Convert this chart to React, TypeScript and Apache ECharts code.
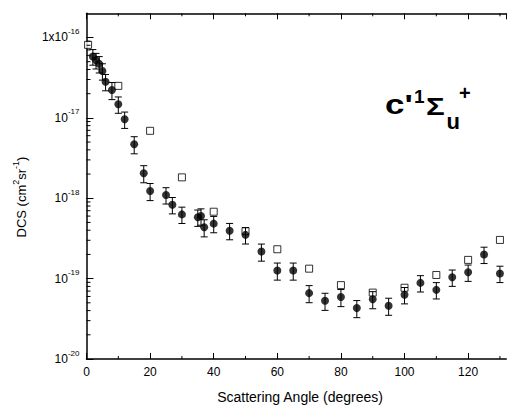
import React, { useEffect, useRef } from "react";
import * as echarts from "echarts";

// Measured differential cross sections (filled circles, with error bars)
const angles = [2, 3, 4, 5, 6, 8, 10, 12, 15, 18, 20, 25, 27, 30, 35, 36, 37, 40, 45, 50, 55, 60, 65, 70, 75, 80, 85, 90, 95, 100, 105, 110, 115, 120, 125, 130];
const measuredDcs = [
  5.8e-17, 5.2e-17, 4.7e-17, 3.83e-17, 2.82e-17, 2.22e-17, 1.48e-17, 9.6e-18, 4.7e-18, 2.05e-18,
  1.23e-18, 1.1e-18, 8.3e-19, 6.3e-19, 5.8e-19, 6.0e-19, 4.35e-19, 4.83e-19, 3.95e-19, 3.5e-19,
  2.17e-19, 1.26e-19, 1.26e-19, 6.6e-20, 5.3e-20, 5.9e-20, 4.3e-20, 5.55e-20, 4.6e-20, 6.3e-20,
  8.85e-20, 7.25e-20, 1.04e-19, 1.2e-19, 2.0e-19, 1.16e-19,
];
// Relative uncertainty of each measured point
const measuredRelErr = [
  0.22, 0.22, 0.23, 0.23, 0.23, 0.24, 0.23, 0.23, 0.24, 0.24,
  0.24, 0.23, 0.23, 0.23, 0.23, 0.23, 0.24, 0.23, 0.23, 0.23,
  0.24, 0.24, 0.24, 0.24, 0.24, 0.24, 0.24, 0.24, 0.24, 0.23,
  0.23, 0.23, 0.23, 0.23, 0.23, 0.23,
];

// Calculated cross sections (open squares)
const theoryAngles = [0.5, 10, 20, 30, 40, 50, 60, 70, 80, 90, 100, 110, 120, 130];
const theoryDcs = [8.1e-17, 2.5e-17, 6.9e-18, 1.82e-18, 6.8e-19, 3.9e-19, 2.32e-19, 1.33e-19, 8.3e-20, 6.7e-20, 7.7e-20, 1.11e-19, 1.71e-19, 3.03e-19];

// Axis ranges and tick positions
const xMin = 0;
const xMax = 132;
const xMajorStep = 20;
const xMinorTicks = [10, 30, 50, 70, 90, 110, 130];
const yMin = 1e-20;
const yMax = 2e-16;
const yDecades = [-20, -19, -18, -17];
const yMinorMultipliers = [2, 3, 4, 5, 6, 7, 8, 9];

const FONT = "Liberation Sans, Arial, sans-serif";

export default function App() {
  const ref = useRef<HTMLDivElement>(null);

  useEffect(() => {
    if (!ref.current) return;
    const chart = echarts.init(ref.current, undefined, { renderer: "svg" });

    const circles = angles.map((a, i) => [a, measuredDcs[i]]);
    const errorBars = angles.map((a, i) => [
      a,
      measuredDcs[i] * (1 - measuredRelErr[i]),
      measuredDcs[i] * (1 + measuredRelErr[i]),
    ]);
    const squares = theoryAngles.map((a, i) => [a, theoryDcs[i]]);
    const yMinor: number[][] = [];
    yDecades.forEach((d) =>
      yMinorMultipliers.forEach((m) => yMinor.push([0, m * Math.pow(10, d)]))
    );
    const xMinor = xMinorTicks.map((v) => [v, yMin]);

    const lineStyle = { stroke: "#000", lineWidth: 1 };

    chart.setOption({
      animation: false,
      grid: { left: 86.5, right: 0.7, top: 13.3, bottom: 49 },
      xAxis: [
        {
          type: "value",
          min: xMin,
          max: xMax,
          interval: xMajorStep,
          position: "bottom",
          axisLine: { show: true, lineStyle: { color: "#000", width: 1.5 } },
          axisTick: { show: true, inside: true, length: 6, lineStyle: { color: "#000", width: 1 } },
          axisLabel: {
            color: "#000",
            fontSize: 12,
            fontFamily: FONT,
            margin: 7,
            showMaxLabel: false,
          },
          splitLine: { show: false },
        },
        {
          type: "value",
          min: xMin,
          max: xMax,
          interval: xMajorStep,
          position: "top",
          axisLine: { show: true, lineStyle: { color: "#000", width: 1.5 } },
          axisTick: { show: true, inside: true, length: 6, lineStyle: { color: "#000", width: 1 } },
          axisLabel: { show: false },
          splitLine: { show: false },
        },
      ],
      yAxis: {
        type: "log",
        logBase: 10,
        min: yMin,
        max: yMax,
        axisLine: { show: true, lineStyle: { color: "#000", width: 1.5 } },
        axisTick: { show: true, inside: true, length: 7, lineStyle: { color: "#000", width: 1 } },
        splitLine: { show: false },
        axisLabel: {
          color: "#000",
          margin: 7,
          showMaxLabel: false,
          formatter: (v: number) => {
            const e = Math.log10(v);
            const r = Math.round(e);
            if (Math.abs(e - r) > 1e-6) return "";
            const base = r === -16 ? "1x10" : "10";
            return `{n|${base}}{s|${r}}`;
          },
          rich: {
            n: { fontSize: 12, fontFamily: FONT, color: "#000", lineHeight: 20 },
            s: { fontSize: 8, fontFamily: FONT, color: "#000", lineHeight: 10, verticalAlign: "top" },
          },
        },
      },
      series: [
        {
          type: "scatter",
          name: "theory",
          data: squares,
          symbol: "rect",
          symbolSize: 7,
          itemStyle: { color: "#fff", borderColor: "#000", borderWidth: 1 },
          z: 2,
        },
        {
          type: "custom",
          name: "error bars",
          data: errorBars,
          z: 3,
          renderItem: (_p: any, api: any) => {
            const x = api.value(0);
            const top = api.coord([x, api.value(2)]);
            const bot = api.coord([x, api.value(1)]);
            const w = 3.5;
            return {
              type: "group",
              children: [
                { type: "line", shape: { x1: top[0], y1: top[1], x2: bot[0], y2: bot[1] }, style: lineStyle },
                { type: "line", shape: { x1: top[0] - w, y1: top[1], x2: top[0] + w, y2: top[1] }, style: lineStyle },
                { type: "line", shape: { x1: bot[0] - w, y1: bot[1], x2: bot[0] + w, y2: bot[1] }, style: lineStyle },
              ],
            };
          },
        },
        {
          type: "scatter",
          name: "measured",
          data: circles,
          symbol: "circle",
          symbolSize: 8,
          itemStyle: { color: "#000" },
          z: 4,
        },
        {
          type: "custom",
          name: "y minor ticks",
          data: yMinor,
          silent: true,
          z: 5,
          renderItem: (_p: any, api: any) => {
            const p = api.coord([api.value(0), api.value(1)]);
            return { type: "line", shape: { x1: p[0], y1: p[1], x2: p[0] + 4, y2: p[1] }, style: lineStyle };
          },
        },
        {
          type: "custom",
          name: "x minor ticks",
          data: xMinor,
          silent: true,
          z: 5,
          renderItem: (_p: any, api: any) => {
            const x = api.value(0);
            const b = api.coord([x, yMin]);
            const t = api.coord([x, yMax]);
            return {
              type: "group",
              children: [
                { type: "line", shape: { x1: b[0], y1: b[1], x2: b[0], y2: b[1] - 3 }, style: lineStyle },
                { type: "line", shape: { x1: t[0], y1: t[1], x2: t[0], y2: t[1] + 3 }, style: lineStyle },
              ],
            };
          },
        },
      ],
      graphic: [
        {
          type: "text",
          x: 300,
          y: 397,
          style: {
            text: "Scattering Angle (degrees)",
            font: `14px ${FONT}`,
            fill: "#000",
            align: "center",
            verticalAlign: "middle",
          },
        },
        {
          type: "text",
          x: 21,
          y: 197,
          rotation: Math.PI / 2,
          style: {
            text: "{n|DCS (cm}{s|2}{n|sr}{s|-1}{n|)}",
            align: "center",
            verticalAlign: "middle",
            rich: {
              n: { fontSize: 13, fontFamily: FONT, fill: "#000", lineHeight: 20 },
              s: { fontSize: 9, fontFamily: FONT, fill: "#000", lineHeight: 10, verticalAlign: "top" },
            },
          },
        },
        {
          type: "text",
          x: 385,
          y: 118,
          scaleX: 1.25,
          style: { text: "c'", font: `bold 28px ${FONT}`, fill: "#000", verticalAlign: "bottom" },
        },
        {
          type: "text",
          x: 414,
          y: 106,
          style: { text: "1", font: `bold 19px ${FONT}`, fill: "#000", verticalAlign: "bottom" },
        },
        {
          type: "text",
          x: 426,
          y: 119,
          scaleX: 1.3,
          style: { text: "Σ", font: `bold 24px ${FONT}`, fill: "#000", verticalAlign: "bottom" },
        },
        {
          type: "text",
          x: 446.5,
          y: 132,
          style: { text: "u", font: `bold 22px ${FONT}`, fill: "#000", verticalAlign: "bottom" },
        },
        {
          type: "text",
          x: 459,
          y: 103,
          style: { text: "+", font: `bold 20px ${FONT}`, fill: "#000", verticalAlign: "bottom" },
        },
      ],
    });

    return () => chart.dispose();
  }, []);

  return <div ref={ref} style={{ width: 507, height: 408, position: "absolute", left: 0, top: 0 }} />;
}
